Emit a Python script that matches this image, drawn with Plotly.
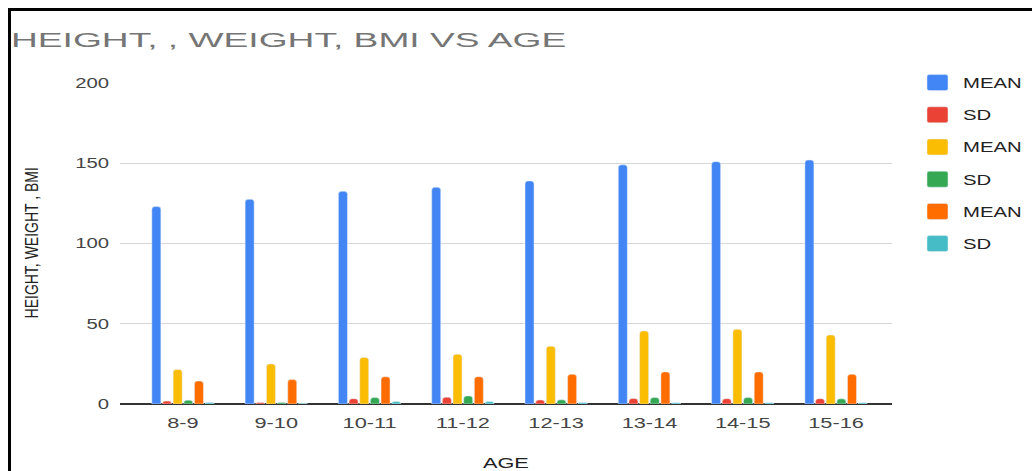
import plotly.graph_objects as go

# ---- data ----
categories = ["8-9", "9-10", "10-11", "11-12", "12-13", "13-14", "14-15", "15-16"]
height_mean = [123, 127.5, 132.5, 135, 139, 149, 151, 152]
height_sd = [1.8, 1.0, 3.3, 4.2, 2.5, 3.4, 3.3, 3.3]
weight_mean = [21.5, 25, 29, 31, 36, 45.5, 46.5, 43]
weight_sd = [2.4, 1.0, 4.0, 5.0, 2.6, 4.0, 4.0, 3.2]
bmi_mean = [14.3, 15.2, 17, 17, 18.5, 20, 20, 18.5]
bmi_sd = [0.9, 0.4, 1.5, 1.5, 0.9, 0.8, 0.8, 0.8]

series_names = ["MEAN", "SD", "MEAN", "SD", "MEAN", "SD"]
series_values = [height_mean, height_sd, weight_mean, weight_sd, bmi_mean, bmi_sd]
series_colors = ["#4285F4", "#EA4335", "#FBBC04", "#34A853", "#FF6D01", "#46BDC6"]

title_text = "HEIGHT, , WEIGHT, BMI VS AGE"
y_title = "HEIGHT, WEIGHT , BMI"
x_title = "AGE"
y_ticks = [0, 50, 100, 150, 200]

FONT = "Liberation Sans, Arial, sans-serif"

fig = go.Figure()
for i, (name, vals, col) in enumerate(zip(series_names, series_values, series_colors)):
    fig.add_trace(go.Bar(
        x=categories, y=vals, name=name, marker_color=col,
        legendgroup=f"g{i}", hoverinfo="skip",
    ))

W, H = 1032, 471
L, R, T, B = 120, 140, 83, 67
pw, ph = W - L - R, H - T - B

def px_x(p):
    return (p - L) / pw

def px_y(p):
    return (H - B - p) / ph

fig.update_layout(
    width=W, height=H,
    margin=dict(l=L, r=R, t=T, b=B, pad=0),
    paper_bgcolor="white", plot_bgcolor="white",
    barmode="group", bargap=0.315, bargroupgap=0.155, barcornerradius=3,
    font=dict(family=FONT, color="#222222"),
    title=dict(
        text=title_text, x=11 / W, xref="container", xanchor="left",
        y=1 - 39.3 / H, yref="container", yanchor="middle",
        font=dict(family=FONT, size=21, color="#757575"),
    ),
    xaxis=dict(
        type="category", range=[-0.675, 7.6], showgrid=False, showline=False,
        zeroline=False, ticks="", tickfont=dict(size=15, color="#444444"),
        ticklabelstandoff=8, fixedrange=True,
    ),
    yaxis=dict(
        range=[0, 200], tickvals=y_ticks, showgrid=True, gridcolor="#d6d6d6",
        gridwidth=1, zeroline=True, zerolinecolor="#333333", zerolinewidth=1.5,
        showline=False, ticks="", tickfont=dict(size=14, color="#444444"),
        ticklabelstandoff=10, fixedrange=True,
    ),
    legend=dict(
        x=px_x(912), xanchor="left", y=px_y(67), yanchor="top",
        traceorder="grouped", tracegroupgap=11, itemwidth=41,
        font=dict(family=FONT, size=14, color="#222222"),
        bgcolor="rgba(0,0,0,0)",
    ),
    annotations=[
        dict(text=y_title, xref="paper", yref="paper", x=px_x(31), y=0.5,
             textangle=-90, showarrow=False, xanchor="center", yanchor="middle",
             font=dict(family=FONT, size=14, color="#222222")),
        dict(text=x_title, xref="paper", yref="paper", x=0.5, y=px_y(462),
             showarrow=False, xanchor="center", yanchor="middle",
             font=dict(family=FONT, size=15, color="#222222")),
    ],
    shapes=[
        dict(type="line", xref="paper", yref="paper", x0=px_x(9.5), x1=px_x(9.5),
             y0=px_y(8), y1=px_y(520), line=dict(color="black", width=3)),
        dict(type="line", xref="paper", yref="paper", x0=px_x(8), x1=px_x(1100),
             y0=px_y(9.5), y1=px_y(9.5), line=dict(color="black", width=3)),
    ],
    showlegend=True,
)

post = r"""
document.documentElement.style.margin = '0';
document.body.style.margin = '0';
document.body.style.padding = '0';
var gd = document.getElementById('{plot_id}');
function sx(t, s){
  var x = parseFloat(t.getAttribute('x')) || 0;
  var tr = t.getAttribute('transform') || '';
  t.setAttribute('transform', tr + ' translate(' + x + ',0) scale(' + s + ',1) translate(' + (-x) + ',0)');
}
function sy(t, s){
  var y = parseFloat(t.getAttribute('y')) || 0;
  var fs = parseFloat(t.style.fontSize) || 14;
  var cy = y - 0.35 * fs;
  var tr = t.getAttribute('transform') || '';
  t.setAttribute('transform', tr + ' translate(0,' + cy + ') scale(1,' + s + ') translate(0,' + (-cy) + ')');
}
gd.querySelectorAll('svg text').forEach(function(t){
  if (t.closest('.annotation') && t.textContent.indexOf('BMI') >= 0) { sy(t, 1.3); return; }
  if (t.classList.contains('gtitle')) { sx(t, 1.77); } else { sx(t, 1.45); }
});
gd.querySelectorAll('.legend, .legend *').forEach(function(e){
  if (e.hasAttribute('clip-path')) e.removeAttribute('clip-path');
});
gd.querySelectorAll('.legendpoints path').forEach(function(p){
  p.setAttribute('d', 'M-8.5,-8H8.5A2,2 0 0 1 10.5,-6V6A2,2 0 0 1 8.5,8H-8.5A2,2 0 0 1 -10.5,6V-6A2,2 0 0 1 -8.5,-8Z');
});
"""

fig.write_html("out.html", config={"displayModeBar": False, "staticPlot": True}, post_script=post)
